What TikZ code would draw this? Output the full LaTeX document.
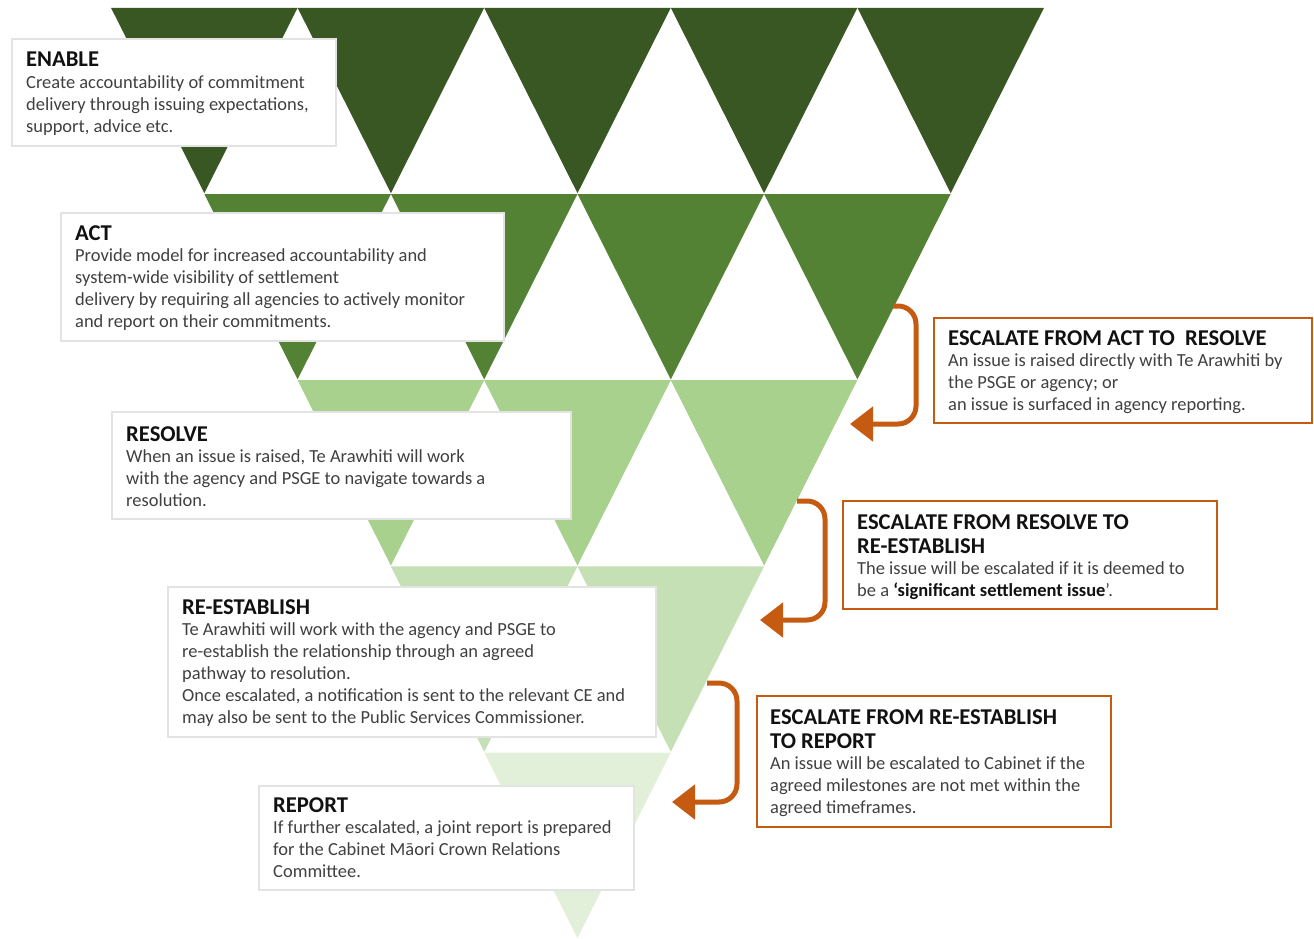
\documentclass[tikz,border=0pt]{standalone}
\usepackage{fontspec}
\setmainfont{Carlito}
\usetikzlibrary{arrows.meta,calc}
\definecolor{gA}{HTML}{385723}
\definecolor{gB}{HTML}{548235}
\definecolor{gC}{HTML}{A9D18E}
\definecolor{gD}{HTML}{C5E0B4}
\definecolor{gE}{HTML}{E2F0D9}
\definecolor{esccol}{HTML}{C55A11}
\definecolor{bodycol}{HTML}{404040}
\definecolor{titlecol}{HTML}{111111}
\definecolor{boxline}{HTML}{E3E3E3}
\newcommand\ttlf{\fontsize{22.6}{24}\selectfont\bfseries\color{titlecol}}
\begin{document}
\begin{tikzpicture}[x=1pt,y=-1pt,
  gbox/.style={draw=boxline, line width=1.6pt, fill=white, inner sep=0pt, anchor=north west},
  obox/.style={draw=esccol, line width=1.8pt, fill=white, inner sep=0pt, anchor=north west},
  txt/.style={anchor=north west, inner sep=0pt, align=left, text=bodycol, font=\fontsize{18.45}{21.8}\selectfont},
  escarrow/.style={draw=esccol, line width=5pt, rounded corners=18pt, -{Triangle[length=23pt,width=34pt]}}]
\useasboundingbox (0,0) rectangle (1314,938);
% inverted triangle of triangles
\foreach \r/\c in {0/gA,1/gB,2/gC,3/gD,4/gE}{
  \pgfmathtruncatemacro\n{4-\r}
  \foreach \j in {0,...,\n}{
    \fill[\c] ({111+93.3*\r+186.6*\j},{7+186.2*\r+0.8}) -- ++(186.6,0)
      -- ({111+93.3*\r+186.6*\j+93.3},{7+186.2*(\r+1)}) -- cycle;
  }
}
% left boxes
\node[gbox, minimum width=324pt, minimum height=107pt] (enable) at (11,38) {};
\node[gbox, minimum width=443pt, minimum height=128pt] (act) at (60,212) {};
\node[gbox, minimum width=459pt, minimum height=107pt] (resolve) at (111,411) {};
\node[gbox, minimum width=488pt, minimum height=150pt] (reest) at (167,586) {};
\node[gbox, minimum width=375pt, minimum height=104pt] (report) at (258,785) {};
% right boxes
\node[obox, minimum width=378pt, minimum height=105pt] (esca) at (933,317) {};
\node[obox, minimum width=374pt, minimum height=108pt] (escb) at (842,500) {};
\node[obox, minimum width=354pt, minimum height=131pt] (escc) at (756,695) {};
% texts
\node[txt] (enableT) at ($(enable.north west)+(15,14)$) {{\ttlf ENABLE}\\
Create accountability of commitment\\
delivery through issuing expectations,\\
support, advice etc.};
\node[txt] (actT) at ($(act.north west)+(15,13)$) {{\ttlf ACT}\\
Provide model for increased accountability and\\
system-wide visibility of settlement\\
delivery by requiring all agencies to actively monitor\\
and report on their commitments.};
\node[txt] (resolveT) at ($(resolve.north west)+(15,15)$) {{\ttlf RESOLVE}\\
When an issue is raised, Te Arawhiti will work\\
with the agency and PSGE to navigate towards a\\
resolution.};
\node[txt] (reestT) at ($(reest.north west)+(15,13)$) {{\ttlf RE-ESTABLISH}\\
Te Arawhiti will work with the agency and PSGE to\\
re-establish the relationship through an agreed\\
pathway to resolution.\\
Once escalated, a notification is sent to the relevant CE and\\
may also be sent to the Public Services Commissioner.};
\node[txt] (reportT) at ($(report.north west)+(15,12)$) {{\ttlf REPORT}\\
If further escalated, a joint report is prepared\\
for the Cabinet Māori Crown Relations\\
Committee.};
\node[txt] (escaT) at ($(esca.north west)+(15,13)$) {{\ttlf ESCALATE FROM ACT TO\ \ RESOLVE}\\
An issue is raised directly with Te Arawhiti by\\
the PSGE or agency; or\\
an issue is surfaced in agency reporting.};
\node[txt] (escbT) at ($(escb.north west)+(15,14)$) {{\ttlf ESCALATE FROM RESOLVE TO}\\[2.2pt]
{\ttlf RE-ESTABLISH}\\
The issue will be escalated if it is deemed to\\
be a {\bfseries\color{titlecol}‘significant settlement issue}’.};
\node[txt] (esccT) at ($(escc.north west)+(14,14)$) {{\ttlf ESCALATE FROM RE-ESTABLISH}\\[2.2pt]
{\ttlf TO REPORT}\\
An issue will be escalated to Cabinet if the\\
agreed milestones are not met within the\\
agreed timeframes.};
% escalation arrows
\coordinate (a1s) at (893,306);
\coordinate (a1e) at (850,424);
\coordinate (a2s) at (797,501);
\coordinate (a2e) at (760,620);
\coordinate (a3s) at (707,683);
\coordinate (a3e) at (672,802);
\draw[escarrow] (a1s) -- (916,306) -- (916,424) -- (a1e);
\draw[escarrow] (a2s) -- (825,501) -- (825,620) -- (a2e);
\draw[escarrow] (a3s) -- (737,683) -- (737,802) -- (a3e);
\end{tikzpicture}
\end{document}
